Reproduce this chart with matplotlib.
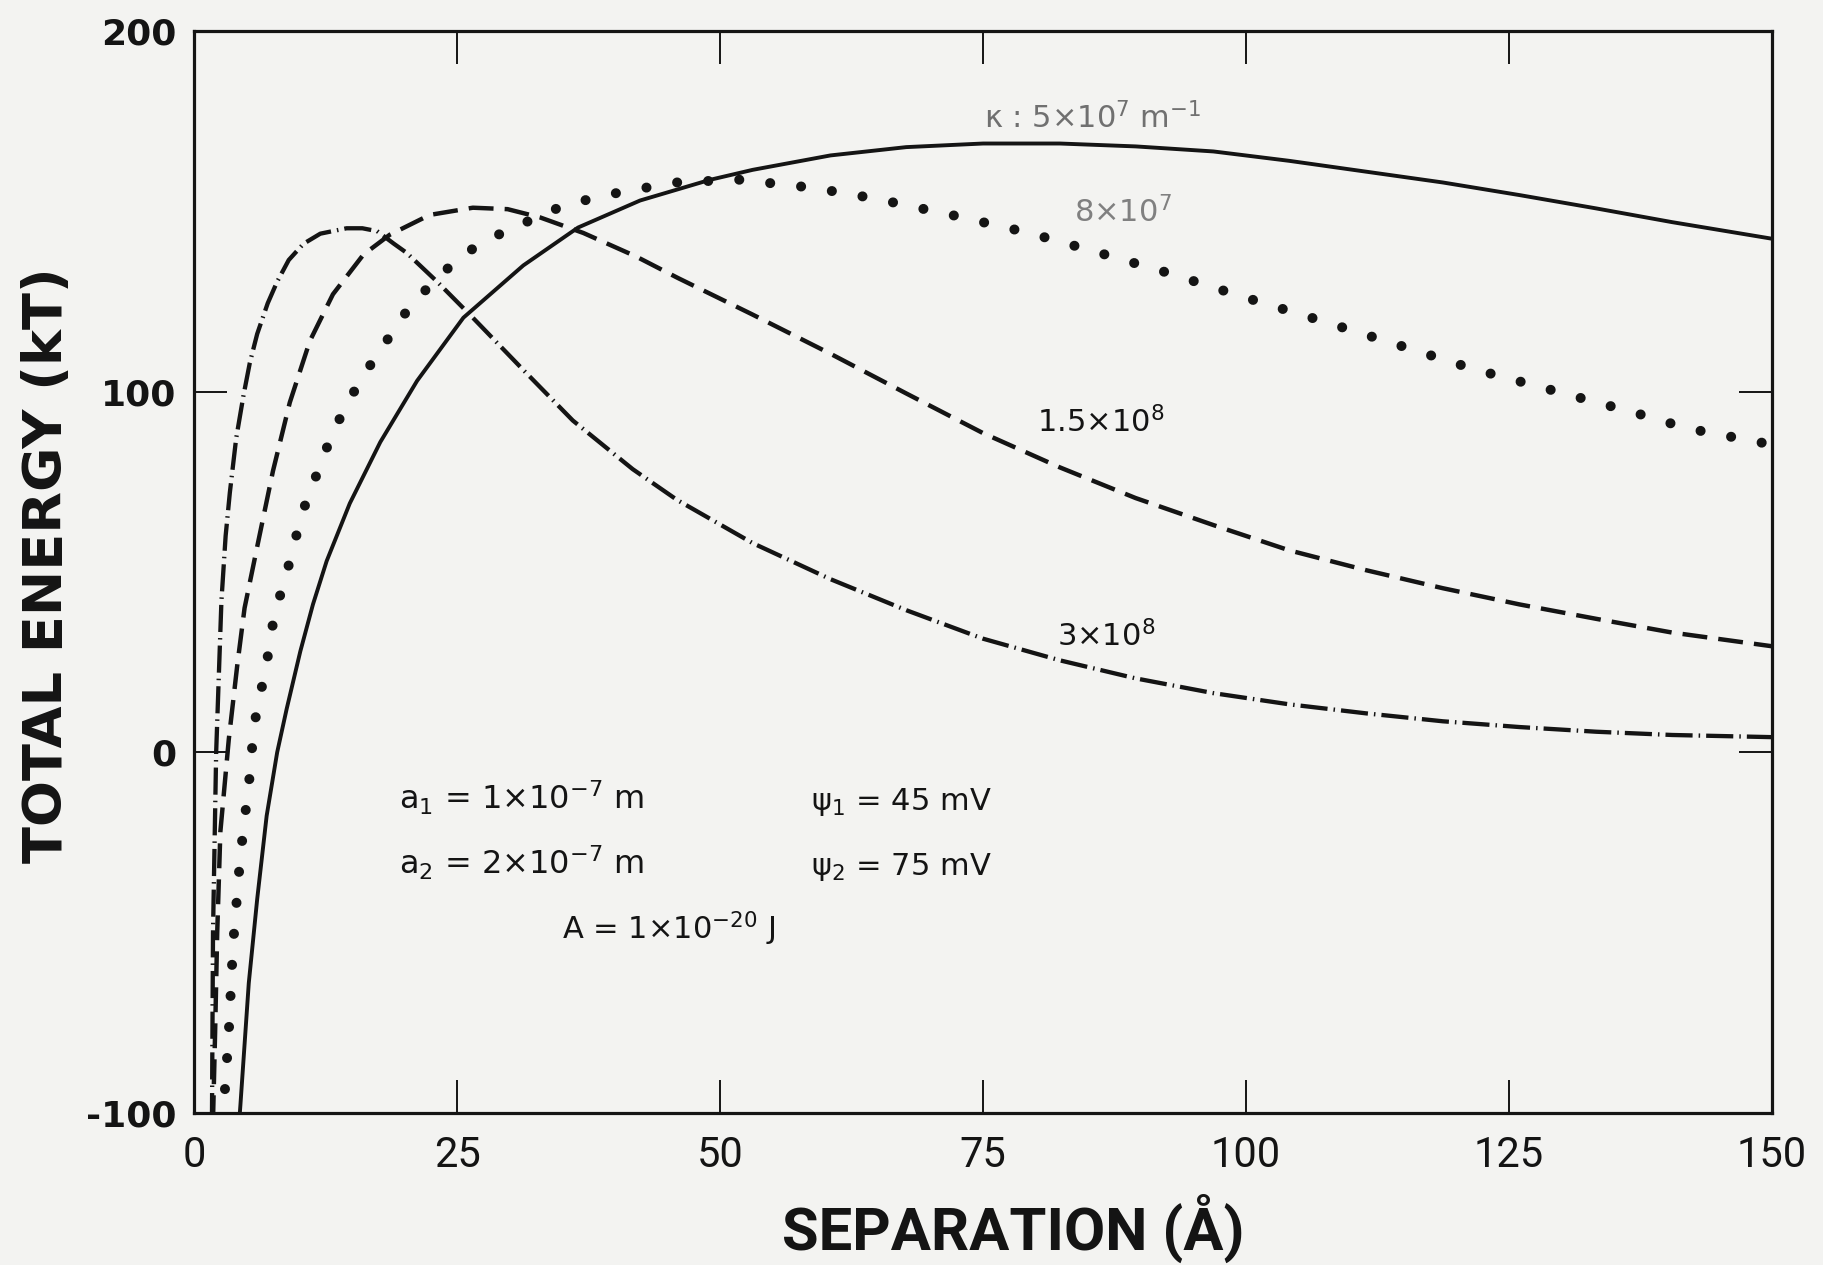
import matplotlib
matplotlib.use("Agg")
import matplotlib.pyplot as plt

plt.rcParams['font.family'] = ['DejaVu Sans']
plt.rcParams['mathtext.default'] = 'regular'
plt.rcParams['axes.unicode_minus'] = False

# total interaction energy (kT) vs separation (A), one curve per kappa
sep_5e7 = [4.3, 4.4, 5.2, 6.0, 6.9, 7.9, 8.8, 10.1, 11.3, 12.6, 14.8, 17.7, 21.2, 25.6,
           31.3, 36.5, 42.4, 49.0, 53.1, 60.5, 67.7, 75.0, 82.3, 89.5, 96.9, 104.1,
           111.4, 118.7, 126.0, 133.3, 140.5, 150.0]
en_5e7 = [-102, -98, -64, -40.7, -17.6, 0, 12, 28, 41, 53, 69, 86, 103, 120.5,
          135, 145.5, 153, 158.7, 161.5, 165.5, 167.8, 168.8, 168.8, 168, 166.6, 164,
          161, 158, 154.5, 150.8, 147, 142.4]

sep_8e7 = [2.8, 2.9, 3.3, 3.7, 4.4, 5.32, 5.64, 6.11, 6.84, 7.22, 7.79, 8.65, 9.44, 10.08,
           11.03, 12.14, 13.09, 14.35, 15.78, 17.37, 18.95, 20.69, 24.97, 27.35, 29.56,
           35.27, 37.96, 40.81, 45.9, 51.7, 58.9, 64.8, 72.0, 79.4, 85.2, 92.5, 99.7,
           107.0, 114.4, 121.6, 129.6, 136.9, 142.0, 150.0]
en_8e7 = [-102, -95, -77.6, -53.6, -28.7, -5.8, 5.8, 14.3, 22.7, 31.8, 39.6, 48.2, 56.6, 64.5,
          72.6, 80.4, 88.4, 95.2, 103.2, 110, 116.9, 124.4, 136.6, 141.3, 144.4,
          151.8, 153.6, 155.5, 158, 158.8, 156.5, 153.5, 149, 144, 139.2, 133, 126.3,
          119.8, 113, 106.3, 100, 94.2, 89.8, 85.3]

sep_15e8 = [1.8, 2.0, 2.2, 2.5, 3.3, 4.1, 4.8, 6.0, 7.5, 9.1, 11.0, 13.2, 16.1, 18.6, 22.4,
            26.5, 29.8, 32.9, 37.0, 42.0, 46.0, 53.0, 60.5, 67.7, 75.0, 82.3, 89.5, 96.9,
            104.1, 111.4, 118.7, 126.0, 133.3, 140.5, 150.0]
en_15e8 = [-102, -77.6, -50, -22, 3.6, 24, 40, 57, 78, 97, 114, 127, 138, 143.5, 149,
           151, 150.6, 148.3, 144, 137.5, 131.5, 121.5, 110.5, 99.5, 88.5, 79, 70.5, 63,
           56, 50.5, 45.5, 41, 37, 33.2, 29.4]

sep_3e8 = [1.7, 1.8, 2.1, 2.6, 3.0, 3.4, 4.0, 4.7, 5.3, 6.0, 7.0, 7.9, 9.0, 10.4, 12.0,
           14.5, 16.0, 17.4, 19.0, 20.2, 23.1, 26.5, 31.3, 36.0, 41.7, 45.9, 53.1, 60.5,
           67.7, 75.0, 82.3, 89.5, 96.9, 104.1, 111.4, 118.7, 126.0, 133.3, 140.5, 150.0]
en_3e8 = [-102, -50, 0, 42, 60, 72, 87, 99, 108, 116, 124.5, 130.5, 136.5, 141, 143.8,
          145.3, 145.3, 144.5, 141, 138.5, 130.5, 120.5, 106, 92, 78.5, 70, 58, 48,
          39.4, 31.5, 25.5, 20.5, 16.4, 13.3, 10.8, 8.6, 7.0, 5.7, 4.8, 4.2]

xticks = [0, 25, 50, 75, 100, 125, 150]
yticks = [-100, 0, 100, 200]

ink = '#141414'
paper = '#f3f3f1'
narrow = ['Roboto', 'DejaVu Sans']

fig = plt.figure(figsize=(18.24, 12.65), dpi=100, facecolor=paper)
ax = fig.add_axes([0.1064, 0.1202, 0.8651, 0.8553], facecolor=paper)

ax.plot(sep_5e7, en_5e7, color=ink, lw=2.8, solid_capstyle='round')
ax.plot(sep_8e7, en_8e7, color=ink, lw=7.2, linestyle=(0, (0.01, 3.1)),
        dash_capstyle='round')
ax.plot(sep_15e8, en_15e8, color=ink, lw=3.2, linestyle=(0, (5.6, 2.5)),
        dash_capstyle='butt')
ax.plot(sep_3e8, en_3e8, color=ink, lw=3.1, linestyle=(0, (6.3, 1.4, 0.35, 1.4)),
        dash_capstyle='butt')

ax.set_xlim(0, 150)
ax.set_ylim(-100, 200)
ax.set_xticks(xticks)
ax.set_yticks(yticks)
ax.set_xticklabels([str(v) for v in xticks], fontsize=30, family=narrow)
ax.set_yticklabels([str(v) for v in yticks], fontsize=26, fontweight='bold')
ax.tick_params(axis='both', direction='in', length=24, width=1.4, color=ink,
               top=True, right=True, labelcolor=ink)
ax.tick_params(axis='x', pad=16)
ax.tick_params(axis='y', pad=13)
for s in ax.spines.values():
    s.set_linewidth(2.3)
    s.set_color(ink)

# curve labels
ax.text(75.1, 173, r'$\kappa$ : 5×10$^{7}$ m$^{-1}$', fontsize=22, color='#707070',
        va='baseline', ha='left')
ax.text(83.6, 147, r'8×10$^{7}$', fontsize=22, color='#808080', va='baseline', ha='left')
ax.text(80.1, 88.6, r'1.5×10$^{8}$', fontsize=22, color=ink, va='baseline', ha='left')
ax.text(82.0, 29.4, r'3×10$^{8}$', fontsize=22, color=ink, va='baseline', ha='left')

# parameters block
ax.text(19.5, -16, r'a$_1$ = 1×10$^{-7}$ m', fontsize=23, color=ink, va='baseline')
ax.text(58.6, -16, r'$\psi_1$ = 45 mV', fontsize=22, color=ink, va='baseline')
ax.text(19.5, -34, r'a$_2$ = 2×10$^{-7}$ m', fontsize=23, color=ink, va='baseline')
ax.text(58.6, -34, r'$\psi_2$ = 75 mV', fontsize=22, color=ink, va='baseline')
ax.text(35.0, -52, r'A = 1×10$^{-20}$ J', fontsize=22, color=ink, va='baseline')

fig.text(1013 / 1824, 1 - 1250 / 1265, 'SEPARATION (Å)', fontsize=43, fontweight='bold',
         family=narrow, color=ink, ha='center', va='baseline')
fig.text(47 / 1824, 1 - 565 / 1265, 'TOTAL ENERGY (kT)', fontsize=39, fontweight='bold',
         color=ink, ha='center', va='center', rotation=90)

fig.savefig('out.png', dpi=100, facecolor=paper)
